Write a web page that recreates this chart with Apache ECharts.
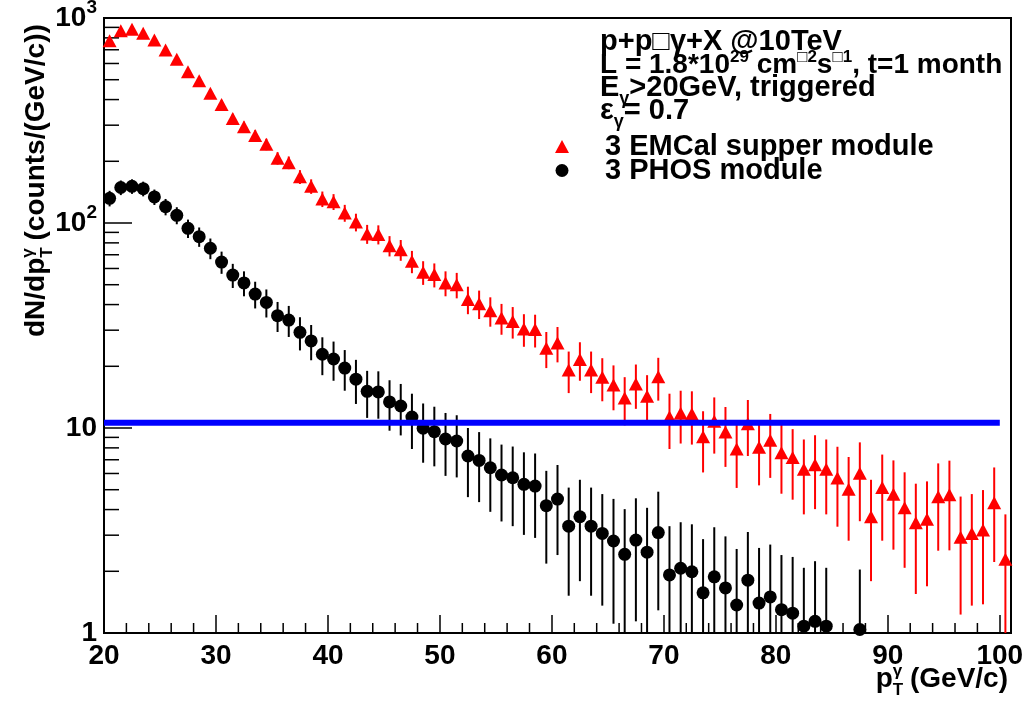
<!DOCTYPE html>
<html><head><meta charset="utf-8">
<script src="https://cdn.jsdelivr.net/npm/echarts@6/dist/echarts.min.js"></script>
<style>html,body{margin:0;padding:0;background:#fff}#c{width:1025px;height:701px}</style>
</head><body><div id="c"></div>
<script>
// ---------- data ----------
const emcalPt = [20.5,21.5,22.5,23.5,24.5,25.5,26.5,27.5,28.5,29.5,30.5,31.5,32.5,33.5,34.5,35.5,36.5,37.5,38.5,39.5,
  40.5,41.5,42.5,43.5,44.5,45.5,46.5,47.5,48.5,49.5,50.5,51.5,52.5,53.5,54.5,55.5,56.5,57.5,58.5,59.5,
  60.5,61.5,62.5,63.5,64.5,65.5,66.5,67.5,68.5,69.5,70.5,71.5,72.5,73.5,74.5,75.5,76.5,77.5,78.5,79.5,
  80.5,81.5,82.5,83.5,84.5,85.5,86.5,87.5,88.5,89.5,90.5,91.5,92.5,93.5,94.5,95.5,96.5,97.5,98.5,99.5,100.5];
const emcalVal = [775,867,881,842,781,698,629,547,494,429,379,323,295,267,242,207,197,168,151,131,
  127,112,101,88.5,88,77.5,74,65,57.5,56,51,50,42.4,40.4,37.3,34.4,33.1,30.4,30.2,24.5,
  26.0,19.2,21.6,19.2,17.7,16.2,14.0,16.4,14.3,17.8,11.3,11.8,11.7,9.07,10.8,9.56,7.9,10.5,8.05,8.71,
  7.58,7.17,6.29,6.62,6.29,5.70,5.02,6.01,3.69,5.12,4.75,4.08,3.45,3.59,4.62,4.73,2.93,3.06,3.18,4.32,2.29];
const emcalErr = [27.8,29.4,29.7,29.0,27.9,26.4,25.1,23.4,22.2,20.7,19.5,18.0,17.2,16.3,15.6,14.4,14.0,13.0,12.3,11.4,
  11.3,10.6,10.0,9.4,9.4,8.8,8.6,8.1,7.6,7.5,7.1,7.1,6.5,6.4,6.1,5.9,5.8,5.5,5.5,4.9,
  5.1,4.4,4.6,4.4,4.2,4.0,3.7,4.0,3.8,4.2,3.4,3.4,3.4,3.0,3.3,3.1,2.8,3.2,2.8,3.0,
  2.8,2.7,2.5,2.6,2.5,2.4,2.2,2.5,1.9,2.3,2.2,2.0,1.9,1.9,2.1,2.2,1.7,1.7,1.8,2.1,1.5];

const phosPt = [20.5,21.5,22.5,23.5,24.5,25.5,26.5,27.5,28.5,29.5,30.5,31.5,32.5,33.5,34.5,35.5,36.5,37.5,38.5,39.5,
  40.5,41.5,42.5,43.5,44.5,45.5,46.5,47.5,48.5,49.5,50.5,51.5,52.5,53.5,54.5,55.5,56.5,57.5,58.5,59.5,
  60.5,61.5,62.5,63.5,64.5,65.5,66.5,67.5,68.5,69.5,70.5,71.5,72.5,73.5,74.5,75.5,76.5,77.5,78.5,79.5,
  80.5,81.5,82.5,83.5,84.5,87.5];
const phosVal = [132,149,151,147,134,120,109,94.2,85.8,75.3,64.5,55.7,51,45,41,35.3,33.6,29.3,26.6,22.9,
  21.7,19.6,17.3,15.1,15.0,13.4,12.8,11.3,9.97,9.6,8.84,8.64,7.30,6.95,6.40,5.90,5.72,5.31,5.21,4.18,
  4.50,3.32,3.69,3.32,3.06,2.81,2.42,2.84,2.48,3.09,1.92,2.07,1.99,1.57,1.88,1.66,1.37,1.81,1.40,1.50,
  1.30,1.25,1.08,1.14,1.08,1.04];
const phosErr = [11.5,12.2,12.3,12.1,11.6,11.0,10.4,9.7,9.3,8.7,8.0,7.5,7.1,6.7,6.4,5.9,5.8,5.4,5.2,4.8,
  4.7,4.4,4.2,3.9,3.9,3.7,3.6,3.4,3.2,3.1,3.0,2.9,2.7,2.6,2.5,2.4,2.4,2.3,2.3,2.0,
  2.1,1.8,1.9,1.8,1.7,1.7,1.6,1.7,1.6,1.8,1.4,1.4,1.4,1.3,1.4,1.3,1.2,1.3,1.2,1.2,
  1.1,1.1,1.0,1.1,1.0,1.0];

const thresholdX = [20, 100];
const thresholdY = 10.6;

const xTicksMinor = [22,24,26,28,32,34,36,38,42,44,46,48,52,54,56,58,62,64,66,68,72,74,76,78,82,84,86,88,92,94,96,98];
const yTicksMinor = [2,3,4,5,6,7,8,9,20,30,40,50,60,70,80,90,200,300,400,500,600,700,800,900];
const yTickLabels = {1:'1', 10:'10', 100:'10{s|2}', 1000:'10{s|3}'};
const X_MIN = 20, X_MAX = 101, Y_MIN = 1, Y_MAX = 1000;

const seriesNames = ['3 EMCal supper module', '3 PHOS module'];
const infoLines = [
  [{t:'p+p\u25A1\u03B3+X @10TeV'}],
  [{t:'L = 1.8*10'},{t:'29',s:'sup'},{t:' cm'},{t:'\u25A12',s:'sup'},{t:'s'},{t:'\u25A11',s:'sup'},{t:', t=1 month'}],
  [{t:'E'},{t:'\u03B3',s:'sub'},{t:'>20GeV, triggered'}],
  [{t:'\u03B5'},{t:'\u03B3',s:'sub'},{t:'= 0.7'}]
];
const xTitle = [{t:'p'},{t:'T',s:'sub',noAdv:true},{t:'\u03B3',s:'sup'},{t:' (GeV/c)'}];
const yTitle = [{t:'dN/dp'},{t:'T',s:'sub',noAdv:true},{t:'\u03B3',s:'sup'},{t:' (counts/(GeV/c))'}];

// ---------- helpers ----------
const FF = '"Liberation Sans", Arial, Helvetica, sans-serif';
const mctx = document.createElement('canvas').getContext('2d');
function runs(segs, fs) {
  let x = 0; const out = [];
  for (const sg of segs) {
    const size = sg.s ? Math.round(fs * 0.62) : fs;
    const font = 'bold ' + size + 'px ' + FF;
    mctx.font = font;
    const w = mctx.measureText(sg.t).width;
    const base = sg.s === 'sup' ? -0.42 * fs : sg.s === 'sub' ? 0.25 * fs : 0;
    out.push({type:'text', x: x, y: base - 0.3465 * size,
      style:{text: sg.t, font: font, fill:'#000', align:'left', verticalAlign:'middle'}});
    if (!sg.noAdv) x += w;
  }
  return {children: out, width: x};
}

function errSeries(name, pts, vals, errs, color) {
  return {
    type:'custom', name: name, silent:true, z:2, clip:false,
    data: pts.map((p, i) => [p, vals[i], errs[i]]),
    encode:{x:0, y:1},
    renderItem(params, api) {
      const x = api.value(0), v = api.value(1), e = api.value(2);
      const lo = Math.max(v - e, Y_MIN), hi = Math.min(v + e, Y_MAX);
      const a = api.coord([x, lo]), b = api.coord([x, hi]);
      return {type:'line', shape:{x1:a[0], y1:a[1], x2:b[0], y2:b[1]}, style:{stroke: color, lineWidth: 2}};
    }
  };
}

// ---------- graphics (text) ----------
const graphics = [];
const infoBaselines = [52, 75, 98, 121];
const infoSizes = [29, 28, 29, 29];
infoLines.forEach((ln, i) => {
  const r = runs(ln, infoSizes[i]);
  graphics.push({type:'group', x: 600, y: infoBaselines[i], children: r.children});
});
const xt = runs(xTitle, 28);
graphics.push({type:'group', x: 1008 - xt.width, y: 689, children: xt.children});
const yt = runs(yTitle, 28);
graphics.push({type:'group', x: 46, y: 337, rotation: Math.PI / 2, children: yt.children});

// ---------- chart ----------
const chart = echarts.init(document.getElementById('c'), null, {renderer:'canvas'});
chart.setOption({
  animation:false,
  backgroundColor:'#fff',
  grid:{left:104, right:14, top:18, bottom:68, show:true, borderColor:'#000', borderWidth:2,
        backgroundColor:'rgba(0,0,0,0)', containLabel:false, outerBoundsMode:'none'},
  legend:{
    data: seriesNames, orient:'vertical', left:550, top:127, itemWidth:14, itemHeight:13, itemGap:-5,
    selectedMode:false,
    textStyle:{fontSize:29, fontWeight:'bold', color:'#000', fontFamily:FF, lineHeight:25, padding:[0,0,0,31]}
  },
  xAxis:{
    type:'value', min:X_MIN, max:X_MAX, interval:10,
    axisLine:{show:true, lineStyle:{color:'#000', width:2}},
    axisTick:{show:true, inside:true, length:18, lineStyle:{color:'#000', width:1.5}},
    axisLabel:{show:true, margin:9, color:'#000', fontSize:28, fontWeight:'bold', fontFamily:FF,
      formatter: v => (Math.abs(v % 10) < 1e-9 ? String(v) : '')},
    splitLine:{show:false}
  },
  yAxis:{
    type:'log', logBase:10, min:Y_MIN, max:Y_MAX,
    axisLine:{show:true, lineStyle:{color:'#000', width:2}},
    axisTick:{show:true, inside:true, length:28, lineStyle:{color:'#000', width:1.5}},
    axisLabel:{show:true, margin:7, color:'#000', fontSize:28, fontWeight:'bold', fontFamily:FF, lineHeight:40,
      formatter: v => yTickLabels[Math.round(v)] || '',
      rich:{s:{fontSize:19, fontWeight:'bold', fontFamily:FF, color:'#000', lineHeight:18, verticalAlign:'top'}}},
    splitLine:{show:false}
  },
  graphic: graphics,
  series:[
    {type:'custom', silent:true, z:1, data: xTicksMinor.map(v => [v, Y_MIN]), encode:{x:0,y:1},
      renderItem(p, api){ const a = api.coord([api.value(0), Y_MIN]);
        return {type:'line', shape:{x1:a[0], y1:a[1], x2:a[0], y2:a[1]-10}, style:{stroke:'#000', lineWidth:1.5}}; }},
    {type:'custom', silent:true, z:1, data: yTicksMinor.map(v => [X_MIN, v]), encode:{x:0,y:1},
      renderItem(p, api){ const a = api.coord([X_MIN, api.value(1)]);
        return {type:'line', shape:{x1:a[0], y1:a[1], x2:a[0]+15, y2:a[1]}, style:{stroke:'#000', lineWidth:1.5}}; }},
    errSeries('emcalErr', emcalPt, emcalVal, emcalErr, '#ff0000'),
    errSeries('phosErr', phosPt, phosVal, phosErr, '#000000'),
    {type:'scatter', name: seriesNames[0], z:3, symbol:'triangle', symbolSize:[14,13],
      itemStyle:{color:'#ff0000', opacity:1}, data: emcalPt.map((p,i) => [p, emcalVal[i]])},
    {type:'scatter', name: seriesNames[1], z:3, symbol:'circle', symbolSize:13,
      itemStyle:{color:'#000000', opacity:1}, data: phosPt.map((p,i) => [p, phosVal[i]])},
    {type:'line', name:'threshold', z:4, silent:true, symbol:'none',
      lineStyle:{color:'#0000ff', width:6}, data: thresholdX.map(x => [x, thresholdY])}
  ]
});
</script></body></html>
